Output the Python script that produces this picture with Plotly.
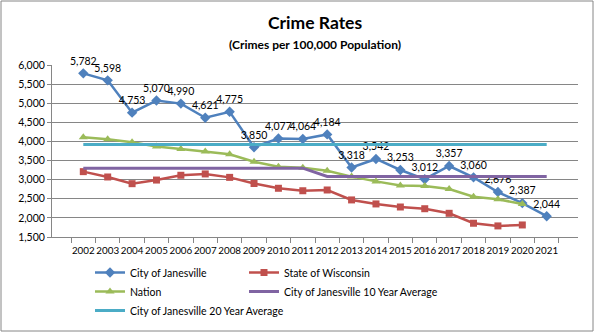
import plotly.graph_objects as go

years = [str(y) for y in range(2002, 2022)]
janesville = [5782, 5598, 4753, 5070, 4990, 4621, 4775, 3850, 4077, 4064,
              4184, 3318, 3542, 3253, 3012, 3357, 3060, 2676, 2387, 2044]
wisconsin = [3210, 3070, 2895, 2990, 3115, 3150, 3060, 2900, 2775, 2710,
             2730, 2470, 2365, 2285, 2240, 2120, 1860, 1790, 1815, None]
nation = [4110, 4055, 3980, 3870, 3805, 3735, 3665, 3470, 3340, 3310,
          3235, 3080, 2955, 2850, 2835, 2755, 2555, 2485, 2365, None]
avg10 = [3300] * 10 + [3085] * 10
avg20 = [3922] * 20
y_ticks = list(range(1500, 6001, 500))
y_tick_labels = [f"{v:,}" for v in y_ticks]

W, H = 595, 333
ML, MR, MT, MB = 52, 17, 65, 96
PW, PH = W - ML - MR, H - MT - MB

def px(x):
    return (x - ML) / PW

def py(y):
    return (H - MB - y) / PH

FONT = "Lato"
fig = go.Figure()
fig.add_trace(go.Scatter(
    x=years, y=janesville, name="City of Janesville", mode="lines+markers+text",
    line=dict(color="#4F81BD", width=2.5),
    marker=dict(symbol="diamond", size=8, color="#4F81BD"),
    text=[f"{v:,}" for v in janesville], textposition="top center", cliponaxis=False,
    textfont=dict(size=10.5, color="#000000", family=FONT), legend="legend"))
fig.add_trace(go.Scatter(
    x=years, y=wisconsin, name="State of Wisconsin", mode="lines+markers",
    line=dict(color="#C0504D", width=2.5), cliponaxis=False,
    marker=dict(symbol="square", size=7, color="#C0504D"), legend="legend2"))
fig.add_trace(go.Scatter(
    x=years, y=nation, name="Nation", mode="lines+markers",
    line=dict(color="#9BBB59", width=2.5), cliponaxis=False,
    marker=dict(symbol="triangle-up", size=8, color="#9BBB59"), legend="legend"))
fig.add_trace(go.Scatter(
    x=years, y=avg10, name="City of Janesville 10 Year Average", mode="lines",
    line=dict(color="#8064A2", width=3), legend="legend2"))
fig.add_trace(go.Scatter(
    x=years, y=avg20, name="City of Janesville 20 Year Average", mode="lines",
    line=dict(color="#4BACC6", width=3), legend="legend"))

leg_common = dict(font=dict(size=10.5, family=FONT, color="#000000"),
                  bgcolor="rgba(0,0,0,0)", xanchor="left", yanchor="top",
                  xref="container", yref="container",
                  orientation="v", tracegroupgap=0, itemwidth=30)
fig.update_layout(
    width=W, height=H,
    margin=dict(l=ML, r=MR, t=MT, b=MB, autoexpand=False),
    paper_bgcolor="white", plot_bgcolor="white",
    font=dict(family=FONT, size=10.5, color="#000000"),
    showlegend=True,
    legend=dict(x=90 / W, y=1 - 258 / H, **leg_common),
    legend2=dict(x=244 / W, y=1 - 258 / H, **leg_common),
    xaxis=dict(type="category", showgrid=False, showline=True, linecolor="#868686",
               ticks="outside", tickson="boundaries", ticklen=5, tickcolor="#868686",
               tickangle=0, tickfont=dict(size=9.8, family=FONT), fixedrange=True,
               ticklabelstandoff=4, automargin=False),
    yaxis=dict(range=[1500, 6000], tickvals=y_ticks, ticktext=y_tick_labels,
               showgrid=True, gridcolor="#868686", gridwidth=1, showline=True,
               linecolor="#868686", ticks="outside", ticklen=4, tickcolor="#868686",
               tickfont=dict(size=10.5, family=FONT), zeroline=False, automargin=False),
    annotations=[
        dict(text="<b>Crime Rates</b>", x=0.5, xref="paper", y=py(22), yref="paper",
             showarrow=False, font=dict(size=17.5, family=FONT), xanchor="center", yanchor="middle"),
        dict(text="<b>(Crimes per 100,000 Population)</b>", x=0.5, xref="paper", y=py(44),
             yref="paper", showarrow=False, font=dict(size=12, family=FONT),
             xanchor="center", yanchor="middle"),
    ],
    shapes=[dict(type="rect", xref="paper", yref="paper", x0=px(1), x1=px(593),
                 y0=py(331), y1=py(1), line=dict(color="#868686", width=1))],
)
fig.write_html("out.html")
